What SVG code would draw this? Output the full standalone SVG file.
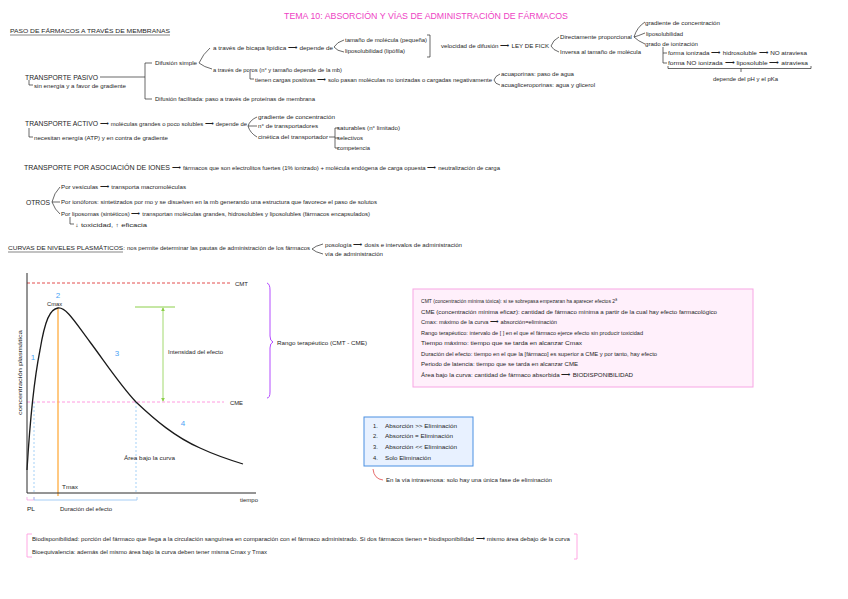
<svg xmlns="http://www.w3.org/2000/svg" width="848" height="599" viewBox="0 0 848 599">
<style>
text{font-family:"Liberation Sans",Arial,sans-serif;fill:#1e1e1e}
.t{font-size:5.8px}
.h{font-size:7.2px}
.title{font-size:9.5px;fill:#ee3fc4}
.ln{fill:none;stroke:#2a2a2a;stroke-width:0.7}
.num{font-size:8px;fill:#4aa3f5}
</style>
<defs>
<marker id="ga" viewBox="0 0 6 6" refX="5" refY="3" markerWidth="5" markerHeight="5" orient="auto-start-reverse"><path d="M0,0 L6,3 L0,6 Z" fill="#8ccf4a"/></marker>
</defs>
<rect width="848" height="599" fill="#ffffff"/>

<g id="title"><text class="title" x="284" y="18.5" textLength="284" lengthAdjust="spacingAndGlyphs">TEMA 10: ABSORCIÓN Y VÍAS DE ADMINISTRACIÓN DE FÁRMACOS</text></g>

<g id="paso">
<text class="t" x="10" y="33" textLength="160" lengthAdjust="spacingAndGlyphs">PASO DE FÁRMACOS A TRAVÉS DE MEMBRANAS</text>
<line x1="10" y1="35" x2="170" y2="35" stroke="#333" stroke-width="0.6"/>
</g>

<g id="pasivo">
<text class="h" x="25" y="80" textLength="73" lengthAdjust="spacingAndGlyphs">TRANSPORTE PASIVO</text>
<text class="t" x="34" y="88" textLength="92" lengthAdjust="spacingAndGlyphs">sin energía y a favor de gradiente</text>
<text class="t" x="155" y="65" textLength="42" lengthAdjust="spacingAndGlyphs">Difusión simple</text>
<text class="t" x="213" y="49.5" textLength="120" lengthAdjust="spacingAndGlyphs">a través de bicapa lipídica ⟶ depende de</text>
<text class="t" x="345" y="42" textLength="82" lengthAdjust="spacingAndGlyphs">tamaño de molécula (pequeña)</text>
<text class="t" x="345" y="53" textLength="60" lengthAdjust="spacingAndGlyphs">liposolubilidad (lipófila)</text>
<text class="t" x="441" y="48" textLength="108" lengthAdjust="spacingAndGlyphs">velocidad de difusión ⟶ LEY DE FICK</text>
<text class="t" x="560" y="39" textLength="72" lengthAdjust="spacingAndGlyphs">Directamente proporcional</text>
<text class="t" x="560" y="54" textLength="81" lengthAdjust="spacingAndGlyphs">Inversa al tamaño de molécula</text>
<text class="t" x="645" y="25" textLength="75" lengthAdjust="spacingAndGlyphs">gradiente de concentración</text>
<text class="t" x="646" y="35.5" textLength="37" lengthAdjust="spacingAndGlyphs">liposolubilidad</text>
<text class="t" x="645" y="46" textLength="53" lengthAdjust="spacingAndGlyphs">grado de ionización</text>
<text class="t" x="668" y="55" textLength="139" lengthAdjust="spacingAndGlyphs">forma ionizada ⟶ hidrosoluble ⟶ NO atraviesa</text>
<text class="t" x="668" y="65" textLength="140" lengthAdjust="spacingAndGlyphs">forma NO ionizada ⟶ liposoluble ⟶ atraviesa</text>
<text class="t" x="713" y="81" textLength="65" lengthAdjust="spacingAndGlyphs">depende del pH y el pKa</text>
<text class="t" x="213" y="71.5" textLength="129" lengthAdjust="spacingAndGlyphs">a través de poros (n° y tamaño depende de la mb)</text>
<text class="t" x="255" y="82" textLength="237" lengthAdjust="spacingAndGlyphs">tienen cargas positivas ⟶ solo pasan moléculas no ionizadas o cargadas negativamente</text>
<text class="t" x="501" y="76" textLength="73" lengthAdjust="spacingAndGlyphs">acuaporinas: paso de agua</text>
<text class="t" x="501" y="87" textLength="94" lengthAdjust="spacingAndGlyphs">acuagliceroporinas: agua y glicerol</text>
<text class="t" x="155" y="101" textLength="160" lengthAdjust="spacingAndGlyphs">Difusión facilitada: paso a través de proteínas de membrana</text>
</g>

<g id="activo">
<text class="h" x="25" y="126" textLength="73" lengthAdjust="spacingAndGlyphs">TRANSPORTE ACTIVO</text>
<text class="t" x="100" y="126" textLength="147" lengthAdjust="spacingAndGlyphs">⟶ moléculas grandes o poco solubles ⟶ depende de</text>
<text class="t" x="34" y="140" textLength="134" lengthAdjust="spacingAndGlyphs">necesitan energía (ATP) y en contra de gradiente</text>
<text class="t" x="258" y="119" textLength="77" lengthAdjust="spacingAndGlyphs">gradiente de concentración</text>
<text class="t" x="258" y="128" textLength="60" lengthAdjust="spacingAndGlyphs">n° de transportadores</text>
<text class="t" x="258" y="139" textLength="70" lengthAdjust="spacingAndGlyphs">cinética del transportador</text>
<text class="t" x="337" y="130" textLength="63" lengthAdjust="spacingAndGlyphs">saturables (n° limitado)</text>
<text class="t" x="337" y="140" textLength="26" lengthAdjust="spacingAndGlyphs">selectivos</text>
<text class="t" x="337" y="150" textLength="33" lengthAdjust="spacingAndGlyphs">competencia</text>
</g>

<g id="iones">
<text class="h" x="24" y="170" textLength="146" lengthAdjust="spacingAndGlyphs">TRANSPORTE POR ASOCIACIÓN DE IONES</text>
<text class="t" x="172" y="170" textLength="328" lengthAdjust="spacingAndGlyphs">⟶ fármacos que son electrolitos fuertes (1% ionizado)  +  molécula endógena de carga opuesta ⟶ neutralización de carga</text>
</g>

<g id="otros">
<text class="h" x="26" y="204.5" textLength="24" lengthAdjust="spacingAndGlyphs">OTROS</text>
<text class="t" x="61" y="189" textLength="125" lengthAdjust="spacingAndGlyphs">Por vesículas ⟶ transporta macromoléculas</text>
<text class="t" x="61" y="204" textLength="316" lengthAdjust="spacingAndGlyphs">Por ionóforos: sintetizados por mo y se disuelven en la mb generando una estructura que favorece el paso de solutos</text>
<text class="t" x="61" y="216" textLength="309" lengthAdjust="spacingAndGlyphs">Por liposomas (sintéticos) ⟶ transportan moléculas grandes, hidrosolubles y liposolubles (fármacos encapsulados)</text>
<text class="t" x="75" y="227" textLength="72" lengthAdjust="spacingAndGlyphs">↓ toxicidad, ↑ eficacia</text>
</g>

<g id="curvas">
<text class="t" x="8" y="250" textLength="117" lengthAdjust="spacingAndGlyphs">CURVAS DE NIVELES PLASMÁTICOS:</text>
<line x1="8" y1="252" x2="123" y2="252" stroke="#333" stroke-width="0.6"/>
<text class="t" x="127" y="250" textLength="183" lengthAdjust="spacingAndGlyphs">nos permite determinar las pautas de administración de los fármacos</text>
<text class="t" x="325" y="247" textLength="137" lengthAdjust="spacingAndGlyphs">posología ⟶ dosis e intervalos de administración</text>
<text class="t" x="325" y="256" textLength="58" lengthAdjust="spacingAndGlyphs">vía de administración</text>
</g>

<g id="connectors">
<path class="ln" d="M100,77 H145 M152,63 H145 V99 H152"/>
<path class="ln" d="M29,80 V85 H33"/>
<path class="ln" d="M210,48 Q203,54 199,63 Q204,67 212,69"/>
<path class="ln" d="M344,40 Q337,42 334,47 Q337,51 344,52"/>
<path class="ln" d="M427,35 H430 V57 H427"/>
<path class="ln" d="M559,37 Q553,40 551,46 Q553,50 559,52"/>
<path class="ln" d="M645,22 Q637,27 634,37 Q638,36 645,33 M634,37 Q638,41 645,44"/>
<path class="ln" d="M663,47 V63 H667 M663,53 H667"/>
<path class="ln" d="M668,66 V68.5 H811 V66 M741,68.5 V72"/>
<path class="ln" d="M250,72 V79 H254"/>
<path class="ln" d="M500,74 Q495,76 494,80 Q495,84 500,85"/>
<path class="ln" d="M29,128 V137 H33"/>
<path class="ln" d="M257,117 Q250,120 248,126 H257 M248,126 Q250,133 257,137"/>
<path class="ln" d="M329,137 H335 M339,128 H335 V148 H339 M335,138 H339"/>
<path class="ln" d="M60,187 Q54,193 52,202 H60 M52,202 Q55,210 60,214"/>
<path class="ln" d="M70,217 V224 H74"/>
<path class="ln" d="M323,244 Q315,246 312,249 Q315,252 323,254"/>
</g>

<g id="grafica">
<line x1="27" y1="283" x2="230" y2="283" stroke="#e03a3a" stroke-width="0.9" stroke-dasharray="3,2"/>
<line x1="27" y1="402" x2="224" y2="402" stroke="#ff8fdc" stroke-width="0.9" stroke-dasharray="3,2"/>
<line x1="34" y1="402" x2="34" y2="493" stroke="#6ab2f2" stroke-width="0.6" stroke-dasharray="2,2"/>
<line x1="136" y1="402" x2="136" y2="493" stroke="#6ab2f2" stroke-width="0.6" stroke-dasharray="2,2"/>
<line x1="58" y1="308" x2="58" y2="496" stroke="#ffb24d" stroke-width="1.4"/>
<path d="M27,470 C30,420 34,380 40,350 C45,320 50,309 58,308 C66,307 75,322 90,342 C105,362 120,385 136,402 C155,420 175,437 200,448 C215,455 230,460 243,464" fill="none" stroke="#1a1a1a" stroke-width="1.3"/>
<line x1="27" y1="273" x2="27" y2="493" stroke="#2a2a2a" stroke-width="1"/>
<line x1="27" y1="493" x2="256" y2="493" stroke="#2a2a2a" stroke-width="1"/>
<line x1="135" y1="307" x2="175" y2="307" stroke="#8ccf4a" stroke-width="1"/>
<line x1="163" y1="308" x2="163" y2="401" stroke="#8ccf4a" stroke-width="0.8" marker-start="url(#ga)" marker-end="url(#ga)"/>
<path d="M27,497 V500 H34 V497" fill="none" stroke="#f59ae0" stroke-width="0.7"/>
<path d="M34,497 V500 H137 V497" fill="none" stroke="#9cc8f5" stroke-width="0.9"/>
<path d="M267,283 Q270,284 270,290 V336 Q270,341 273,342 Q270,343 270,348 V392 Q270,398 267,398" fill="none" stroke="#b44cff" stroke-width="1"/>
<text class="t" x="235" y="285.5" textLength="13" lengthAdjust="spacingAndGlyphs">CMT</text>
<text class="t" x="230" y="404.5" textLength="13" lengthAdjust="spacingAndGlyphs">CME</text>
<text class="t" x="47" y="305.5" textLength="15" lengthAdjust="spacingAndGlyphs">Cmax</text>
<text class="num" x="58" y="298" text-anchor="middle">2</text>
<text class="num" x="33" y="360" text-anchor="middle">1</text>
<text class="num" x="117" y="356" text-anchor="middle">3</text>
<text class="num" x="183" y="426" text-anchor="middle">4</text>
<text class="t" x="168" y="354" textLength="55" lengthAdjust="spacingAndGlyphs">Intensidad del efecto</text>
<text class="t" x="124" y="460" textLength="51" lengthAdjust="spacingAndGlyphs">Área bajo la curva</text>
<text class="t" x="62" y="489" textLength="16" lengthAdjust="spacingAndGlyphs">Tmax</text>
<text class="t" x="240" y="502" textLength="18" lengthAdjust="spacingAndGlyphs">tiempo</text>
<text class="t" x="27" y="511" textLength="8" lengthAdjust="spacingAndGlyphs">PL</text>
<text class="t" x="60" y="511" textLength="52" lengthAdjust="spacingAndGlyphs">Duración del efecto</text>
<text class="t" x="0" y="0" transform="translate(21.5,415) rotate(-90)" textLength="85" lengthAdjust="spacingAndGlyphs">concentración plasmática</text>
<text class="t" x="277" y="345" textLength="90" lengthAdjust="spacingAndGlyphs">Rango terapéutico (CMT - CME)</text>
</g>

<g id="definiciones">
<rect x="413" y="289" width="340" height="98" fill="#fff0fb" stroke="#f7a6e4" stroke-width="1"/>
<text class="t" x="421" y="303" textLength="196" lengthAdjust="spacingAndGlyphs">CMT (concentración mínima tóxica): si se sobrepasa empezaran ha aparecer efectos 2ª</text>
<text class="t" x="421" y="313.5" textLength="296" lengthAdjust="spacingAndGlyphs">CME (concentración mínima eficaz): cantidad de fármaco mínima a partir de la cual hay efecto farmacológico</text>
<text class="t" x="421" y="324" textLength="136" lengthAdjust="spacingAndGlyphs">Cmax: máximo de la curva ⟶ absorción=eliminación</text>
<text class="t" x="421" y="334.5" textLength="222" lengthAdjust="spacingAndGlyphs">Rango terapéutico: intervalo de [  ] en el que el fármaco ejerce efecto sin producir toxicidad</text>
<text class="t" x="421" y="345" textLength="161" lengthAdjust="spacingAndGlyphs">Tiempo máximo: tiempo que se tarda en alcanzar Cmax</text>
<text class="t" x="421" y="355.5" textLength="236" lengthAdjust="spacingAndGlyphs">Duración del efecto: tiempo en el que la [fármaco] es superior a CME y por tanto, hay efecto</text>
<text class="t" x="421" y="366" textLength="157" lengthAdjust="spacingAndGlyphs">Periodo de latencia: tiempo que se tarda en alcanzar CME</text>
<text class="t" x="421" y="376.5" textLength="212" lengthAdjust="spacingAndGlyphs">Área bajo la curva: cantidad de fármaco absorbida ⟶ BIODISPONIBILIDAD</text>
</g>

<g id="fases">
<rect x="364" y="417" width="109" height="49" fill="#e8f1ff" stroke="#4a90e2" stroke-width="1"/>
<text class="t" x="373" y="428">1.</text>
<text class="t" x="385" y="428" textLength="72" lengthAdjust="spacingAndGlyphs">Absorción &gt;&gt; Eliminación</text>
<text class="t" x="373" y="438">2.</text>
<text class="t" x="385" y="438" textLength="68" lengthAdjust="spacingAndGlyphs">Absorción = Eliminación</text>
<text class="t" x="373" y="449">3.</text>
<text class="t" x="385" y="449" textLength="72" lengthAdjust="spacingAndGlyphs">Absorción &lt;&lt; Eliminación</text>
<text class="t" x="373" y="459.5">4.</text>
<text class="t" x="385" y="459.5" textLength="46" lengthAdjust="spacingAndGlyphs">Solo Eliminación</text>
<path d="M373,469 Q374,479 383,480" fill="none" stroke="#e04848" stroke-width="0.8"/>
<text class="t" x="386" y="482" textLength="166" lengthAdjust="spacingAndGlyphs">En la vía intravenosa: solo hay una única fase de eliminación</text>
</g>

<g id="biodisponibilidad">
<path d="M32,534 H27 V557 H32" fill="none" stroke="#ff9ee0" stroke-width="0.9"/>
<path d="M574,534 H577 V559 H574" fill="none" stroke="#ff9ee0" stroke-width="0.9"/>
<text class="t" x="32" y="541" textLength="538" lengthAdjust="spacingAndGlyphs">Biodisponibilidad: porción del fármaco que llega a la circulación sanguínea en comparación con el fármaco administrado. Si dos fármacos tienen = biodisponibilidad ⟶ mismo área debajo de la curva</text>
<text class="t" x="32" y="553.5" textLength="235" lengthAdjust="spacingAndGlyphs">Bioequivalencia: además del mismo área bajo la curva deben tener misma Cmax y Tmax</text>
</g>
</svg>
